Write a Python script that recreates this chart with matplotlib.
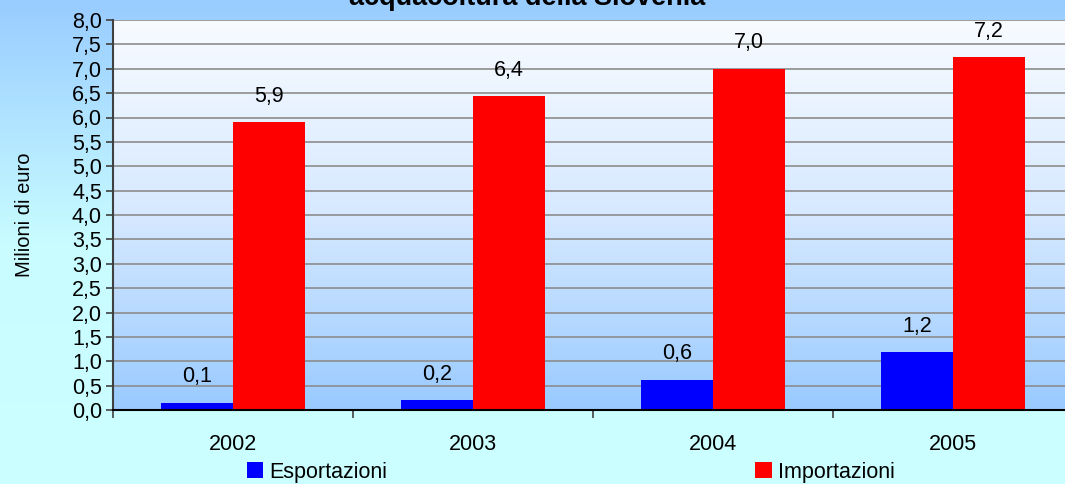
import numpy as np
import matplotlib
matplotlib.use("Agg")
import matplotlib.pyplot as plt
from matplotlib.colors import LinearSegmentedColormap
from matplotlib.ticker import FuncFormatter, MultipleLocator, FixedLocator

plt.rcParams['font.family'] = ['Liberation Sans', 'DejaVu Sans']

# data
years = ['2002', '2003', '2004', '2005']
esportazioni = [0.15, 0.2, 0.62, 1.18]
importazioni = [5.9, 6.44, 7.0, 7.24]
labels_esp = ['0,1', '0,2', '0,6', '1,2']
labels_imp = ['5,9', '6,4', '7,0', '7,2']

fs = 15.5

fig = plt.figure(figsize=(10.65, 4.84), dpi=100)

# figure background gradient (light blue -> light cyan)
bg = fig.add_axes([0, 0, 1, 1], zorder=-10)
bg_cmap = LinearSegmentedColormap.from_list('bg', ['#99ccff', '#c8fcff', '#ccffff'])
bg.imshow(np.linspace(0, 1, 256).reshape(-1, 1), aspect='auto', cmap=bg_cmap,
          extent=[0, 1, 0, 1], origin='upper')
bg.axis('off')

ax = fig.add_axes([113 / 1065, 1 - 410 / 484, 960 / 1065, 390 / 484])
ax.patch.set_alpha(0)

# plot area gradient (white top -> blue bottom)
pa_cmap = LinearSegmentedColormap.from_list('pa', ['#f8fbff', '#d6e9ff', '#99caff'])
ax.imshow(np.linspace(0, 1, 256).reshape(-1, 1), aspect='auto', cmap=pa_cmap,
          extent=[-0.5, 3.5, 0, 8], origin='upper', zorder=0)

x = np.arange(len(years))
w = 0.3
b1 = ax.bar(x - w / 2, esportazioni, w, color='#0000ff', label='Esportazioni', zorder=3)
b2 = ax.bar(x + w / 2, importazioni, w, color='#ff0000', label='Importazioni', zorder=3)

for rect, lab in zip(b1, labels_esp):
    ax.annotate(lab, (rect.get_x() + rect.get_width() / 2, rect.get_height()),
                xytext=(0, 11), textcoords='offset points', ha='center', va='bottom',
                fontsize=fs, zorder=4)
for rect, lab in zip(b2, labels_imp):
    ax.annotate(lab, (rect.get_x() + rect.get_width() / 2, rect.get_height()),
                xytext=(0, 11), textcoords='offset points', ha='center', va='bottom',
                fontsize=fs, zorder=4)

ax.set_xlim(-0.5, 3.5)
ax.set_ylim(0, 8)
ax.yaxis.set_major_locator(MultipleLocator(0.5))
ax.yaxis.set_major_formatter(FuncFormatter(lambda v, p: f'{v:.1f}'.replace('.', ',')))
ax.grid(axis='y', color='#8c8c8c', linewidth=1.2, zorder=1)
ax.set_axisbelow(False)

ax.set_xticks(x)
ax.set_xticklabels(years)
ax.xaxis.set_minor_locator(FixedLocator(np.arange(-0.5, 4, 1)))
ax.tick_params(axis='x', which='major', length=0, pad=17, labelsize=fs)
ax.tick_params(axis='x', which='minor', length=6, width=1.2, color='#404040')
ax.tick_params(axis='y', length=5, width=1.2, color='#404040', labelsize=fs, pad=3)

for s in ['top', 'right']:
    ax.spines[s].set_visible(False)
ax.spines['left'].set_color('#404040')
ax.spines['left'].set_linewidth(1.5)
ax.spines['bottom'].set_color('#000000')
ax.spines['bottom'].set_linewidth(1.5)
for s in ['left', 'bottom']:
    ax.spines[s].set_zorder(5)

ax.set_ylabel('Milioni di euro', fontsize=14.5, labelpad=27)

fig.text(527 / 1065, 1 - 5 / 484, 'acquacoltura della Slovenia', ha='center',
         va='baseline', fontsize=19.5, fontweight='bold')

fig.legend(handles=[b1, b2], loc='center', bbox_to_anchor=(0.536, 0.024), ncol=2,
           frameon=False, fontsize=fs, handlelength=0.75, handleheight=0.75,
           handletextpad=0.3, columnspacing=17.1)

fig.savefig('out.png', dpi=100)
